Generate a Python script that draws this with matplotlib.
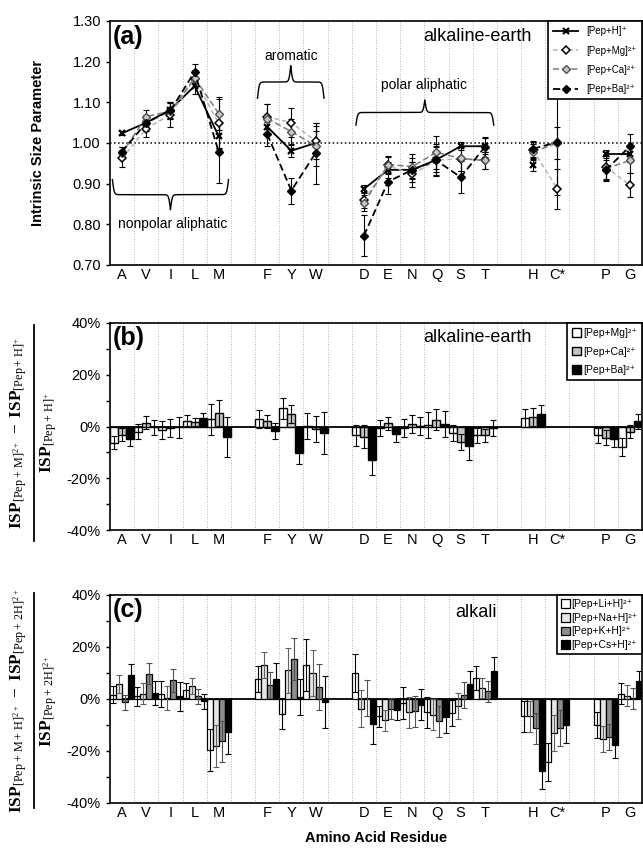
import numpy as np
import matplotlib
matplotlib.use("Agg")
import matplotlib.pyplot as plt
from matplotlib.lines import Line2D
from matplotlib.ticker import MultipleLocator, FuncFormatter

plt.rcParams['font.family'] = ['Liberation Sans', 'DejaVu Sans']
plt.rcParams['axes.unicode_minus'] = False
plt.rcParams['mathtext.fontset'] = 'custom'
plt.rcParams['mathtext.rm'] = 'Liberation Serif'
plt.rcParams['mathtext.it'] = 'Liberation Serif:italic'
plt.rcParams['mathtext.bf'] = 'Liberation Serif:bold'

nan = np.nan

# residues and where they sit on the x axis (gaps between groups)
residues = ['A', 'V', 'I', 'L', 'M', 'F', 'Y', 'W', 'D', 'E', 'N', 'Q', 'S', 'T', 'H', 'C*', 'P', 'G']
xpos = [1, 2, 3, 4, 5, 7, 8, 9, 11, 12, 13, 14, 15, 16, 18, 19, 21, 22]
groups = [(0, 5), (5, 8), (8, 14), (14, 16), (16, 18)]

# (a) intrinsic size parameters
isp_h = [1.024, 1.050, 1.082, 1.140, 1.016, 1.040, 0.981, 1.000, 0.887, 0.934, 0.934, 0.959, 0.992, 0.992, 0.945, nan, 0.974, 0.974]
isp_mg = [0.962, 1.035, 1.070, 1.158, 1.048, 1.065, 1.050, 1.005, 0.860, 0.945, 0.923, 0.958, 0.961, 0.957, 0.982, 0.887, 0.942, 0.896]
isp_ca = [0.975, 1.065, 1.078, 1.160, 1.072, 1.060, 1.028, 0.993, 0.852, 0.947, 0.942, 0.977, 0.962, 0.957, 0.978, 1.000, 0.937, 0.957]
isp_ba = [0.979, 1.050, 1.080, 1.175, 0.977, 1.022, 0.883, 0.975, 0.772, 0.905, 0.934, 0.957, 0.916, 0.990, 0.986, 1.002, 0.933, 0.992]
err_h = [0.005, 0.015, 0.02, 0.02, 0.03, 0.02, 0.015, 0.03, 0.01, 0.02, 0.02, 0.03, 0.01, 0.02, 0.015, nan, 0.01, 0.02]
err_mg = [0.02, 0.02, 0.03, 0.02, 0.06, 0.03, 0.035, 0.045, 0.02, 0.02, 0.03, 0.04, 0.03, 0.02, 0.02, 0.05, 0.03, 0.03]
err_ca = [0.015, 0.015, 0.02, 0.02, 0.04, 0.035, 0.03, 0.05, 0.02, 0.02, 0.03, 0.04, 0.03, 0.02, 0.02, 0.04, 0.03, 0.03]
err_ba = [0.01, 0.02, 0.02, 0.02, 0.075, 0.03, 0.032, 0.075, 0.05, 0.03, 0.03, 0.035, 0.04, 0.025, 0.02, 0.13, 0.025, 0.03]

# (b) alkaline-earth, % difference vs [Pep+H]+
b_mg = [-6.2, -2.0, -1.2, 2.3, 2.8, 2.8, 7.0, 0.3, -3.4, -0.5, -0.5, 0.5, -2.5, -3.4, 3.3, nan, -3.4, -8.0]
b_ca = [-3.2, 1.5, -0.5, 1.8, 5.2, 2.0, 5.0, -0.8, -4.0, 1.2, 1.0, 2.6, -6.0, -3.4, 3.8, nan, -4.3, -2.0]
b_ba = [-4.9, -0.3, -0.3, 3.2, -4.2, -1.8, -10.3, -2.5, -12.9, -3.0, 0.3, 0.8, -7.4, -0.5, 5.0, nan, -4.8, 2.0]
be_mg = [2.5, 3, 3.5, 2, 6, 3.5, 4, 5, 4, 3, 3.5, 5, 3, 3, 3.5, nan, 3, 3.5]
be_ca = [2.5, 2.5, 3.5, 1.5, 5, 2.5, 3.5, 5, 4.5, 2.5, 3.5, 4, 3, 2.5, 3.5, nan, 3, 2.5]
be_ba = [2.5, 3, 4, 2, 7.7, 3, 4, 8, 6, 3, 3.5, 5, 5.5, 3, 3.5, nan, 3, 3]

# (c) alkali, % difference vs [Pep+2H]2+
c_li = [1.7, 1.0, 2.0, 3.3, -19.5, 7.8, -5.6, 13.2, 10.0, -6.7, -1.5, -5.1, -5.4, 8.1, -6.7, -24.4, -10.1, 2.0]
c_na = [5.9, 2.0, 0.4, 5.1, -18.0, 13.2, 11.0, 10.0, -3.7, -8.2, -5.1, -6.0, -2.8, 4.2, -6.7, -13.0, -15.3, 1.3]
c_k = [-1.3, 9.7, 7.2, 1.0, -16.3, 5.3, 15.5, 4.6, 0.3, -3.8, -4.7, -8.6, 1.4, 3.0, -11.2, -11.2, -14.6, 0.3]
c_cs = [9.1, 2.3, 1.0, -0.9, -12.8, 7.8, 0.8, -1.1, -9.5, -4.1, -2.2, -7.1, 5.9, 10.6, -27.6, -9.9, -17.6, 6.8]
ce_li = [3.3, 3.5, 5, 3, 8, 5, 5.8, 10, 7.3, 4, 6, 6, 5, 4.5, 6, 7.3, 5, 4]
ce_na = [3.5, 4, 4.5, 3, 8, 5, 8.5, 9, 7, 4, 6, 6, 5, 4, 6, 7, 5, 4]
ce_k = [3, 4, 4.5, 3, 8, 5, 8, 9, 7, 4, 6, 6, 5, 4, 6, 7, 5, 4]
ce_cs = [4.5, 4.5, 5.5, 3, 8.5, 6, 7, 10, 7.7, 4, 6, 6, 5, 5.5, 7, 7, 5, 4]

x = np.array(xpos, dtype=float)

W, H = 643, 849
fig = plt.figure(figsize=(W / 100, H / 100), dpi=100)


def px_axes(left, top, right, bottom):
    return fig.add_axes([left / W, 1 - bottom / H, (right - left) / W, (bottom - top) / H])


def style(ax):
    ax.set_xlim(0.5, 22.5)
    ax.set_xticks(xpos)
    ax.set_xticklabels(residues, fontsize=10.5)
    ax.set_xticks(np.arange(1.5, 22, 1), minor=True)
    ax.tick_params(axis='x', which='both', length=0, pad=2)
    ax.tick_params(axis='y', which='both', length=3, width=1, labelsize=10.5, direction='out')
    ax.grid(True, which='minor', axis='x', color='#b5b5b5', linestyle=':', linewidth=0.7)
    ax.set_axisbelow(True)
    for s in ax.spines.values():
        s.set_linewidth(1.2)


def brace(ax, x0, x1, y, h):
    mid = (x0 + x1) / 2
    xs = np.linspace(x0, mid, 151)
    beta = 28
    yl = 1 / (1 + np.exp(-beta * (xs - x0))) + 1 / (1 + np.exp(-beta * (xs - mid)))
    xa = np.concatenate([xs, (2 * mid - xs[::-1])[1:]])
    ya = np.concatenate([yl, yl[::-1][1:]])
    ax.plot(xa, y + (ya - 0.5) * h, color='black', lw=1.0, zorder=3)


# ---------- (a) ----------
ax1 = px_axes(110, 21, 642, 265)
style(ax1)
ax1.set_ylim(0.70, 1.30)
ax1.yaxis.set_major_locator(MultipleLocator(0.10))
ax1.yaxis.set_major_formatter(FuncFormatter(lambda v, p: f"{v:.2f}"))
ax1.axhline(1.0, color='black', linestyle=':', lw=1.1, zorder=1)

series_a = [
    (isp_h, err_h, dict(color='black', ls='-', lw=1.3, marker='x', ms=5, mew=1.6, mfc='black', mec='black'), '[Pep+H]\u207a'),
    (isp_mg, err_mg, dict(color='#b4b4b4', ls=(0, (3, 2)), lw=1.1, marker='D', ms=4.5, mew=1.1, mfc='white', mec='black'), '[Pep+Mg]\u00b2\u207a'),
    (isp_ca, err_ca, dict(color='#7a7a7a', ls=(0, (4, 2)), lw=1.1, marker='D', ms=4.5, mew=1.0, mfc='#c8c8c8', mec='#505050'), '[Pep+Ca]\u00b2\u207a'),
    (isp_ba, err_ba, dict(color='black', ls=(0, (4, 2)), lw=1.3, marker='D', ms=4.5, mew=1.0, mfc='black', mec='black'), '[Pep+Ba]\u00b2\u207a'),
]
handles = []
for vals, errs, kw, lab in series_a:
    v = np.array(vals)
    e = np.array(errs)
    ax1.errorbar(x, v, yerr=e, fmt='none', ecolor='black', elinewidth=0.8, capsize=2, capthick=0.8, zorder=4)
    for i0, i1 in groups:
        ax1.plot(x[i0:i1], v[i0:i1], zorder=5, **kw)
    handles.append(Line2D([], [], label=lab, **kw))
leg = ax1.legend(handles=handles, loc='upper right', fontsize=7, frameon=True, fancybox=False,
                 edgecolor='black', framealpha=1, borderaxespad=0, handlelength=2.6,
                 labelspacing=0.95, borderpad=0.55)
leg.get_frame().set_linewidth(1.2)

brace(ax1, 0.6, 5.4, 0.91, -0.074)
ax1.text(3.1, 0.80, 'nonpolar aliphatic', ha='center', va='center', fontsize=10)
brace(ax1, 6.6, 9.35, 1.11, 0.08)
ax1.text(8.0, 1.215, 'aromatic', ha='center', va='center', fontsize=10)
brace(ax1, 10.67, 16.37, 1.044, 0.062)
ax1.text(13.5, 1.143, 'polar aliphatic', ha='center', va='center', fontsize=10)
ax1.text(0.69, 0.935, 'alkaline-earth', transform=ax1.transAxes, ha='center', va='center', fontsize=13)
ax1.text(0.006, 0.985, '(a)', transform=ax1.transAxes, ha='left', va='top', fontsize=18, fontweight='bold')
fig.text(38 / W, 1 - 143 / H, 'Intrinsic Size Parameter', rotation=90, ha='center', va='center',
         fontsize=10.5, fontweight='bold')


def pct_axis(ax):
    ax.set_ylim(-40, 40)
    ax.yaxis.set_major_locator(MultipleLocator(20))
    ax.yaxis.set_minor_locator(MultipleLocator(10))
    ax.yaxis.set_major_formatter(FuncFormatter(lambda v, p: f"{int(round(v))}%"))
    ax.axhline(0, color='black', lw=1.3, zorder=3)


# ---------- (b) ----------
ax2 = px_axes(110, 323, 642, 530)
style(ax2)
pct_axis(ax2)
wb = 1 / 3
bars_b = [(b_mg, be_mg, 'white', '[Pep+Mg]\u00b2\u207a'),
          (b_ca, be_ca, '#c4c4c4', '[Pep+Ca]\u00b2\u207a'),
          (b_ba, be_ba, 'black', '[Pep+Ba]\u00b2\u207a')]
bh = []
for k, (vals, errs, col, lab) in enumerate(bars_b):
    xx = x + (k - 1) * wb
    bc = ax2.bar(xx, vals, width=wb, color=col, edgecolor='black', lw=1.0, zorder=4, label=lab)
    ax2.errorbar(xx, vals, yerr=errs, fmt='none', ecolor='black', elinewidth=0.8, capsize=2, capthick=0.8, zorder=5)
    bh.append(bc)
leg2 = ax2.legend(handles=bh, loc='upper right', fontsize=7.5, frameon=True, fancybox=False,
                  edgecolor='black', framealpha=1, borderaxespad=0, handlelength=0.8, handleheight=0.9,
                  handletextpad=0.2, labelspacing=0.8, borderpad=0.5)
leg2.get_frame().set_linewidth(1.2)
ax2.text(0.69, 0.93, 'alkaline-earth', transform=ax2.transAxes, ha='center', va='center', fontsize=13)
ax2.text(0.006, 0.985, '(b)', transform=ax2.transAxes, ha='left', va='top', fontsize=18, fontweight='bold')

# ---------- (c) ----------
ax3 = px_axes(110, 595, 642, 803)
style(ax3)
pct_axis(ax3)
wc = 0.25
bars_c = [(c_li, ce_li, 'white', 'black', '[Pep+Li+H]\u00b2\u207a'),
          (c_na, ce_na, '#e6e6e6', '#606060', '[Pep+Na+H]\u00b2\u207a'),
          (c_k, ce_k, '#8c8c8c', '#505050', '[Pep+K+H]\u00b2\u207a'),
          (c_cs, ce_cs, 'black', 'black', '[Pep+Cs+H]\u00b2\u207a')]
ch = []
for k, (vals, errs, col, ecol, lab) in enumerate(bars_c):
    xx = x + (k - 1.5) * wc
    bc = ax3.bar(xx, vals, width=wc, color=col, edgecolor='black', lw=0.9, zorder=4, label=lab)
    ax3.errorbar(xx, vals, yerr=errs, fmt='none', ecolor=ecol, elinewidth=0.8, capsize=2, capthick=0.8, zorder=5)
    ch.append(bc)
leg3 = ax3.legend(handles=ch, loc='upper right', fontsize=7.5, frameon=True, fancybox=False,
                  edgecolor='black', framealpha=1, borderaxespad=0, handlelength=0.8, handleheight=0.9,
                  handletextpad=0.2, labelspacing=0.35, borderpad=0.4)
leg3.get_frame().set_linewidth(1.2)
ax3.text(0.688, 0.915, 'alkali', transform=ax3.transAxes, ha='center', va='center', fontsize=13)
ax3.text(0.006, 0.985, '(c)', transform=ax3.transAxes, ha='left', va='top', fontsize=18, fontweight='bold')

fig.text((110 + 642) / 2 / W, 1 - 838 / H, 'Amino Acid Residue', ha='center', va='center',
         fontsize=10.5, fontweight='bold')

# fraction-style y labels for (b) and (c)
num_b = r'$\mathbf{ISP}_{\mathrm{[Pep+\,M]^{2+}}}\ -\ \mathbf{ISP}_{\mathrm{[Pep+\,H]^{+}}}$'
den_b = r'$\mathbf{ISP}_{\mathrm{[Pep+\,H]^{+}}}$'
num_c = r'$\mathbf{ISP}_{\mathrm{[Pep+\,M+\,H]^{2+}}}\ -\ \mathbf{ISP}_{\mathrm{[Pep+\,2H]^{2+}}}$'
den_c = r'$\mathbf{ISP}_{\mathrm{[Pep+\,2H]^{2+}}}$'
for num, den, top, bot in [(num_b, den_b, 325, 541), (num_c, den_c, 593, 808)]:
    cy = 1 - (top + bot) / 2 / H
    fig.text(19 / W, cy, num, rotation=90, ha='center', va='center', fontsize=12.5)
    fig.text(49 / W, cy, den, rotation=90, ha='center', va='center', fontsize=12.5)
    fig.add_artist(Line2D([34 / W, 34 / W], [1 - top / H, 1 - bot / H], color='black', lw=1.3))

fig.savefig('out.png', dpi=100)
